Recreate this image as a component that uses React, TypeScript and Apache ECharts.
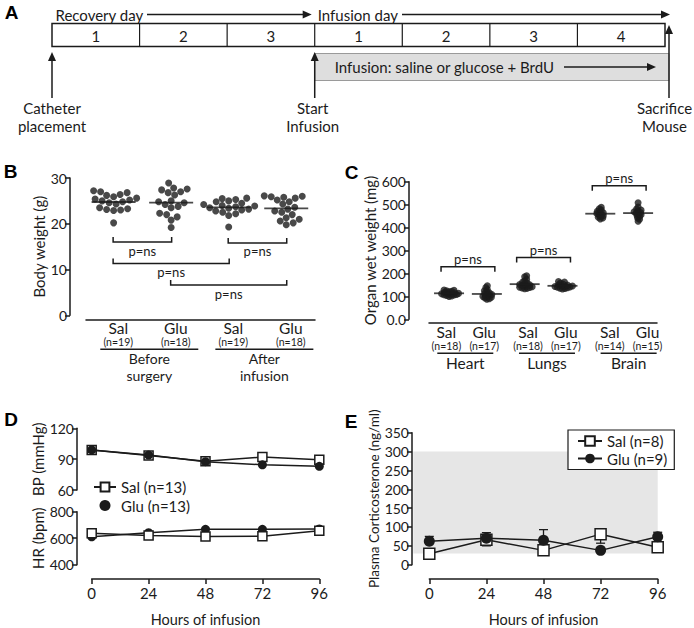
import React, { useEffect, useRef } from "react";
import * as echarts from "echarts";

// ---------------- DATA ----------------
// Panel A (timeline)
const recoveryDays = ["1", "2", "3"];
const infusionDays = ["1", "2", "3", "4"];
const eventLabels = ["Catheter\nplacement", "Start\nInfusion", "Sacrifice\nMouse"];
const infusionNote = "Infusion: saline or glucose + BrdU";

// Panel B (body weight, g)
const bGroups = ["Sal", "Glu", "Sal", "Glu"];
const bCounts = ["(n=19)", "(n=18)", "(n=19)", "(n=18)"];
const bPhases = [["Before", "surgery"], ["After", "infusion"]];
const bSalBefore = [20.2, 22.9, 23.0, 23.1, 23.3, 23.5, 24.3, 24.6, 24.8, 25.0, 25.2, 25.4, 25.6, 25.9, 26.2, 26.4, 26.8, 27.0, 27.2];
const bGluBefore = [19.2, 20.8, 21.5, 22.0, 22.3, 23.5, 23.8, 24.2, 24.6, 24.8, 25.0, 26.3, 26.8, 27.0, 27.4, 27.6, 27.8, 28.9];
const bSalAfter = [19.3, 21.8, 22.2, 22.5, 22.8, 23.0, 23.2, 23.4, 23.5, 23.7, 23.9, 24.0, 24.2, 24.5, 24.8, 25.0, 25.3, 25.5, 25.6];
const bGluAfter = [19.8, 20.2, 20.6, 21.0, 21.3, 22.0, 22.5, 22.8, 23.2, 23.6, 24.3, 24.8, 25.2, 25.6, 25.8, 25.9, 26.0, 26.1];
const bBrackets = [[0, 1, 16.0], [2, 3, 15.8], [0, 2, 11.3], [1, 3, 6.6]];
const bYTicks = [0, 10, 20, 30];

// Panel C (organ wet weight, mg)
const cGroups = ["Sal", "Glu", "Sal", "Glu", "Sal", "Glu"];
const cCounts = ["(n=18)", "(n=17)", "(n=18)", "(n=17)", "(n=14)", "(n=15)"];
const cOrgans = [["Heart"], ["Lungs"], ["Brain"]];
const cHeartSal = [100, 102, 104, 106, 107, 108, 110, 111, 112, 113, 114, 116, 118, 120, 122, 124, 126, 128];
const cHeartGlu = [88, 90, 93, 96, 98, 100, 103, 105, 108, 110, 113, 116, 120, 124, 130, 138, 146];
const cLungsSal = [133, 135, 137, 139, 140, 142, 144, 146, 148, 150, 152, 155, 158, 162, 168, 175, 185, 190];
const cLungsGlu = [132, 134, 136, 138, 140, 141, 142, 143, 144, 145, 147, 149, 151, 154, 158, 162, 165];
const cBrainSal = [438, 442, 445, 448, 452, 455, 458, 461, 464, 467, 471, 476, 482, 488];
const cBrainGlu = [428, 436, 442, 448, 452, 456, 460, 463, 466, 469, 472, 476, 481, 490, 508];
const cBrackets = [[0, 1, 229], [2, 3, 269], [4, 5, 582]];

// Panel D (BP / HR over hours of infusion)
const hours = [0, 24, 48, 72, 96];
const bpSal = [99, 93.5, 88, 92, 89.5];
const bpGlu = [99, 94, 87.5, 84.5, 83];
const hrSal = [638, 620, 613, 615, 656];
const hrGlu = [611, 642, 667, 667, 670];

// Panel E (plasma corticosterone, ng/ml)
const corSal = [29, 66, 38, 81, 46];
const corSalErr = [3, 16, 5, 24, 11];
const corGlu = [62, 70, 65, 38, 74];
const corGluErr = [13, 15, 28, 3, 12];
const corNormalRange = [30, 300];

const pLabel = "p=ns";

// ---------------- STYLE / LAYOUT ----------------
const FONT = "Lato, 'Open Sans', sans-serif";
const INK = "#1b1b1b";

function mean(a: number[]) {
  return a.reduce((s, v) => s + v, 0) / a.length;
}

// deterministic beeswarm: horizontal offsets (data units) so dots don't collide
function swarmOffsets(values: number[], pxPerY: number, pxPerX: number, minDist: number, step = 0.5) {
  const order = values.map((_, i) => i).sort((a, b) => values[a] - values[b]);
  const placed: number[][] = [];
  const out = new Array(values.length).fill(0);
  for (const i of order) {
    const y = values[i] * pxPerY;
    let x = 0;
    for (let k = 0; k < 600; k++) {
      const c = k === 0 ? 0 : (k % 2 === 1 ? 1 : -1) * Math.ceil(k / 2) * step;
      let ok = true;
      for (const p of placed) {
        const dx = p[0] - c, dy = p[1] - y;
        if (dx * dx + dy * dy < minDist * minDist) { ok = false; break; }
      }
      if (ok) { x = c; break; }
    }
    placed.push([x, y]);
    out[i] = x / pxPerX;
  }
  return out;
}

const txt = (extra: any) => ({ fill: INK, fontFamily: FONT, ...extra });

function buildTimeline() {
  const days = [...recoveryDays, ...infusionDays];
  const L = 52, R = 665, T = 23.5, B = 46.5;
  const cw = (R - L) / days.length;
  const els: any[] = [];
  const arrowH = (x1: number, x2: number, y: number) => {
    els.push({ type: "line", shape: { x1, y1: y, x2: x2 - 7, y2: y }, style: { stroke: INK, lineWidth: 1.5 } });
    els.push({ type: "polygon", shape: { points: [[x2 - 9, y - 4], [x2, y], [x2 - 9, y + 4]] }, style: { fill: INK } });
  };
  const arrowV = (x: number, yTip: number, yEnd: number) => {
    els.push({ type: "line", shape: { x1: x, y1: yTip + 7, x2: x, y2: yEnd }, style: { stroke: INK, lineWidth: 1.5 } });
    els.push({ type: "polygon", shape: { points: [[x - 4, yTip + 9], [x, yTip], [x + 4, yTip + 9]] }, style: { fill: INK } });
  };
  els.push({ type: "text", x: L + 3.5, y: 14.5, style: txt({ text: "Recovery day", fontSize: 15, align: "left", verticalAlign: "middle" }) });
  arrowH(147, L + recoveryDays.length * cw - 3, 14.5);
  const infStart = L + recoveryDays.length * cw;
  els.push({ type: "text", x: infStart + 3, y: 14.5, style: txt({ text: "Infusion day", fontSize: 15, align: "left", verticalAlign: "middle" }) });
  arrowH(402, R + 5, 14.5);
  els.push({ type: "rect", shape: { x: infStart, y: 53.5, width: R + 4 - infStart, height: 27 }, style: { fill: "#dedede", stroke: "#9a9a9a", lineWidth: 1 } });
  els.push({ type: "text", x: infStart + 20, y: 67, style: txt({ text: infusionNote, fontSize: 15, align: "left", verticalAlign: "middle" }) });
  arrowH(564, 656, 67);
  els.push({ type: "rect", shape: { x: L, y: T, width: R - L, height: B - T }, style: { fill: "#fff", stroke: INK, lineWidth: 1.5 } });
  days.forEach((d, i) => {
    if (i > 0) els.push({ type: "line", shape: { x1: L + i * cw, y1: T, x2: L + i * cw, y2: B }, style: { stroke: INK, lineWidth: 1.2 } });
    els.push({ type: "text", x: L + (i + 0.5) * cw, y: 35.5, style: txt({ text: d, fontSize: 15, align: "center", verticalAlign: "middle" }) });
  });
  const evX = [L, infStart, R + 4];
  const evTip = [52, 52, 25];
  const evShift = [0, -2, -4.5];
  evX.forEach((x, i) => {
    arrowV(x, evTip[i], 98);
    eventLabels[i].split("\n").forEach((line, j) => {
      els.push({ type: "text", x: x + evShift[i], y: 108 + j * 18, style: txt({ text: line, fontSize: 15, align: "center", verticalAlign: "middle" }) });
    });
  });
  return els;
}

const panelLetters = [
  { t: "A", x: 11.5, y: 12.5 },
  { t: "B", x: 10.5, y: 171 },
  { t: "C", x: 351.5, y: 172 },
  { t: "D", x: 11, y: 419 },
  { t: "E", x: 351, y: 421 },
];

export default function App() {
  const ref = useRef<HTMLDivElement>(null);
  useEffect(() => {
    if (!ref.current) return;
    const chart = echarts.init(ref.current, undefined, { renderer: "svg" });

    const BG = { left: 86, top: 178, width: 229, height: 137.3 };
    const BX = { min: -0.48, max: 3.5 };
    const bPxX = BG.width / (BX.max - BX.min), bPxY = BG.height / 30;
    const CG = { left: 429, top: 181.7, width: 228, height: 137.6 };
    const CX = { min: -0.53, max: 5.5 };
    const cPxX = CG.width / (CX.max - CX.min), cPxY = CG.height / 600;

    const bSets = [bSalBefore, bGluBefore, bSalAfter, bGluAfter];
    const cSets = [cHeartSal, cHeartGlu, cLungsSal, cLungsGlu, cBrainSal, cBrainGlu];

    const bDots: number[][] = [];
    bSets.forEach((s, g) => {
      const off = swarmOffsets(s, bPxY, bPxX, 6.8);
      s.forEach((v, i) => bDots.push([g + off[i], v]));
    });
    const cDots: number[][] = [];
    cSets.forEach((s, g) => {
      const off = swarmOffsets(s, cPxY, cPxX, 2.3);
      s.forEach((v, i) => cDots.push([g + off[i], v]));
    });

    const yAxisBase = (extra: any) => ({
      type: "value",
      axisLine: { show: true, onZero: false, lineStyle: { color: INK, width: 1.5 } },
      axisTick: { show: true, length: 5, lineStyle: { color: INK, width: 1.5 } },
      axisLabel: { color: INK, fontSize: 14, fontFamily: FONT, margin: 3 },
      splitLine: { show: false },
      nameLocation: "middle",
      nameRotate: 90,
      nameTextStyle: { color: INK, fontSize: 15, fontFamily: FONT },
      ...extra,
    });
    const xHidden = (extra: any) => ({
      type: "value",
      axisLine: { show: true, onZero: false, lineStyle: { color: INK, width: 1.5 } },
      axisTick: { show: false },
      axisLabel: { show: false },
      splitLine: { show: false },
      ...extra,
    });
    const xHours = (grid: number) => ({
      type: "value", gridIndex: grid, min: 0, max: 96, interval: 24, offset: 14.3,
      axisLine: { show: true, onZero: false, lineStyle: { color: INK, width: 1.5 } },
      axisTick: { show: true, length: 5, lineStyle: { color: INK, width: 1.5 } },
      axisLabel: { color: INK, fontSize: 15, fontFamily: FONT, margin: 6 },
      splitLine: { show: false },
      name: "Hours of infusion", nameLocation: "middle", nameGap: 33,
      nameTextStyle: { color: INK, fontSize: 14.5, fontFamily: FONT },
    });

    const bracketSeries = (xi: number, brackets: number[][], dir: number, labelDy: number, ext: number) => ({
      type: "custom", xAxisIndex: xi, yAxisIndex: xi, silent: true, z: 3,
      data: brackets.map((b) => [b[0], b[2]]),
      renderItem: (params: any, api: any) => {
        const b = brackets[params.dataIndex];
        const p1 = api.coord([b[0], b[2]]);
        const p2 = api.coord([b[1], b[2]]);
        const x1 = p1[0] - ext, x2 = p2[0] + ext, y = p1[1];
        return {
          type: "group",
          children: [
            { type: "polyline", shape: { points: [[x1, y + dir * 5], [x1, y], [x2, y], [x2, y + dir * 5]] }, style: { stroke: INK, lineWidth: 1.5, fill: null } },
            { type: "text", x: (x1 + x2) / 2, y: y + labelDy, style: txt({ text: pLabel, fontSize: 13, align: "center", verticalAlign: "middle" }) },
          ],
        };
      },
    });

    const groupLabelSeries = (xi: number, groups: string[], counts: string[], shift: (i: number) => number, dy1: number, dy2: number, size: number) => ({
      type: "custom", xAxisIndex: xi, yAxisIndex: xi, silent: true,
      data: groups.map((_, i) => [i, 0]),
      renderItem: (params: any, api: any) => {
        const i = params.dataIndex;
        const p = api.coord([i + shift(i), 0]);
        return {
          type: "group",
          children: [
            { type: "text", x: p[0], y: p[1] + dy1, style: txt({ text: groups[i], fontSize: size, align: "center", verticalAlign: "middle" }) },
            { type: "text", x: p[0], y: p[1] + dy2, style: txt({ text: counts[i], fontSize: 10.5, align: "center", verticalAlign: "middle" }) },
          ],
        };
      },
    });

    const superLabelSeries = (xi: number, labels: string[][], center: (k: number) => number, dLine: number, dText: number, half: number, size: number, lineGap: number) => ({
      type: "custom", xAxisIndex: xi, yAxisIndex: xi, silent: true,
      data: labels.map((_, k) => [k, 0]),
      renderItem: (params: any, api: any) => {
        const k = params.dataIndex;
        const p = api.coord([center(k), 0]);
        const children: any[] = [
          { type: "line", shape: { x1: p[0] - half, y1: p[1] + dLine, x2: p[0] + half, y2: p[1] + dLine }, style: { stroke: INK, lineWidth: 1.5 } },
        ];
        labels[k].forEach((line, j) => {
          children.push({ type: "text", x: p[0], y: p[1] + dText + j * lineGap, style: txt({ text: line, fontSize: size, align: "center", verticalAlign: "middle" }) });
        });
        return { type: "group", children };
      },
    });

    const errSeries = (vals: number[], errs: number[], sign: number) => ({
      type: "custom", xAxisIndex: 4, yAxisIndex: 4, silent: true, z: 2,
      data: hours.map((h, i) => [h, vals[i], vals[i] + sign * errs[i]]),
      renderItem: (params: any, api: any) => {
        const a = api.coord([api.value(0), api.value(1)]);
        const b = api.coord([api.value(0), api.value(2)]);
        return {
          type: "group",
          children: [
            { type: "line", shape: { x1: a[0], y1: a[1], x2: b[0], y2: b[1] }, style: { stroke: INK, lineWidth: 1.3 } },
            { type: "line", shape: { x1: b[0] - 4.5, y1: b[1], x2: b[0] + 4.5, y2: b[1] }, style: { stroke: INK, lineWidth: 1.3 } },
          ],
        };
      },
    });

    const salStyle = (size: number) => ({
      symbol: "rect", symbolSize: size, showAllSymbol: true,
      itemStyle: { color: "#fff", borderColor: INK, borderWidth: 1.5 },
      lineStyle: { color: INK, width: 1.5 },
    });
    const gluStyle = (size: number) => ({
      symbol: "circle", symbolSize: size, showAllSymbol: true,
      itemStyle: { color: INK },
      lineStyle: { color: INK, width: 1.5 },
    });

    const option: any = {
      animation: false,
      backgroundColor: "#fff",
      textStyle: { fontFamily: FONT, color: INK },
      graphic: [
        ...buildTimeline(),
        ...panelLetters.map((p) => ({ type: "text", x: p.x, y: p.y, style: { text: p.t, fill: "#000", fontSize: 19, fontWeight: "bold", fontFamily: "'Liberation Sans', Arial, sans-serif", align: "center", verticalAlign: "middle" } })),
      ],
      grid: [
        { ...BG, containLabel: false },
        { ...CG, containLabel: false },
        { left: 91.7, top: 428.3, width: 227.6, height: 61.7 },
        { left: 91.7, top: 511.7, width: 227.6, height: 61 },
        { left: 429.3, top: 432.7, width: 228.4, height: 136.3 },
      ],
      xAxis: [
        xHidden({ gridIndex: 0, min: BX.min, max: BX.max, offset: 4 }),
        xHidden({ gridIndex: 1, min: CX.min, max: CX.max, offset: 3.5 }),
        { type: "value", gridIndex: 2, min: 0, max: 96, show: false },
        xHours(3),
        xHours(4),
      ],
      yAxis: [
        yAxisBase({ gridIndex: 0, min: bYTicks[0], max: bYTicks[bYTicks.length - 1], interval: 10, offset: 16, name: "Body weight (g)", nameGap: 24 }),
        yAxisBase({ gridIndex: 1, min: 0, max: 600, interval: 100, offset: 20, name: "Organ wet weight (mg)", nameGap: 29, axisLabel: { color: INK, fontSize: 14, fontFamily: FONT, margin: 3, formatter: (v: number) => (v === 0 ? "0.0" : String(v)) } }),
        yAxisBase({ gridIndex: 2, min: 60, max: 120, interval: 30, offset: 14.7, name: "BP (mmHg)", nameGap: 30 }),
        yAxisBase({ gridIndex: 3, min: 400, max: 800, interval: 200, offset: 14.7, name: "HR (bpm)", nameGap: 30 }),
        yAxisBase({ gridIndex: 4, min: 0, max: 350, interval: 50, offset: 17.3, name: "Plasma Corticosterone (ng/ml)", nameGap: 27, nameTextStyle: { color: INK, fontSize: 13.5, fontFamily: FONT } }),
      ],
      legend: [
        {
          orient: "vertical", left: 93, top: 478.5, padding: 0, itemGap: 1.5, itemWidth: 22, itemHeight: 11,
          textStyle: { color: INK, fontSize: 15, fontFamily: FONT, lineHeight: 17 },
          data: ["Sal (n=13)", { name: "Glu (n=13)", icon: "circle" }],
          selectedMode: false,
        },
        {
          orient: "vertical", left: 568, top: 430, padding: [2.5, 7, 2.5, 9], itemGap: 0.5, itemWidth: 24, itemHeight: 12,
          borderColor: INK, borderWidth: 1.2, backgroundColor: "#fff",
          textStyle: { color: INK, fontSize: 15, fontFamily: FONT, lineHeight: 17 },
          data: ["Sal (n=8)", "Glu (n=9)"],
          selectedMode: false,
        },
      ],
      series: [
        // ---- B ----
        { type: "scatter", xAxisIndex: 0, yAxisIndex: 0, symbolSize: 7, itemStyle: { color: INK }, data: bDots, z: 2 },
        { type: "scatter", xAxisIndex: 0, yAxisIndex: 0, symbol: "rect", symbolSize: [44, 1.8], itemStyle: { color: INK }, data: bSets.map((s, g) => [g, mean(s)]), z: 3 },
        bracketSeries(0, bBrackets, -1, 8.5, 0.5),
        groupLabelSeries(0, bGroups, bCounts, () => 0.08, 13, 27, 15.5),
        superLabelSeries(0, bPhases, (k) => 2 * k + 0.5 + 0.12, 34, 43, 49, 14, 17),
        // ---- C ----
        { type: "scatter", xAxisIndex: 1, yAxisIndex: 1, symbolSize: 7, itemStyle: { color: INK }, data: cDots, z: 2 },
        { type: "scatter", xAxisIndex: 1, yAxisIndex: 1, symbol: "rect", symbolSize: [30, 1.8], itemStyle: { color: INK }, data: cSets.map((s, g) => [g, mean(s)]), z: 3 },
        bracketSeries(1, cBrackets, 1, -8, 8),
        groupLabelSeries(1, cGroups, cCounts, (i) => Math.floor(i / 2) * 0.16 - 0.07, 12.5, 26.5, 15.5),
        superLabelSeries(1, cOrgans, (k) => 2 * k + 0.5 + k * 0.16 - 0.07, 34, 44, 28, 15.5, 0),
        // ---- D ----
        { type: "line", name: "Sal (n=13)", xAxisIndex: 2, yAxisIndex: 2, data: hours.map((h, i) => [h, bpSal[i]]), ...salStyle(9), z: 3 },
        { type: "line", name: "Glu (n=13)", xAxisIndex: 2, yAxisIndex: 2, data: hours.map((h, i) => [h, bpGlu[i]]), ...gluStyle(9), z: 4 },
        { type: "line", name: "Sal (n=13)", xAxisIndex: 3, yAxisIndex: 3, data: hours.map((h, i) => [h, hrSal[i]]), ...salStyle(9), z: 4 },
        { type: "line", name: "Glu (n=13)", xAxisIndex: 3, yAxisIndex: 3, data: hours.map((h, i) => [h, hrGlu[i]]), ...gluStyle(9), z: 3 },
        // ---- E ----
        {
          type: "custom", xAxisIndex: 4, yAxisIndex: 4, silent: true, z: 1,
          data: [[0, corNormalRange[1]]],
          renderItem: (_p: any, api: any) => {
            const a = api.coord([0, corNormalRange[1]]);
            const b = api.coord([96, corNormalRange[0]]);
            return { type: "rect", shape: { x: a[0] - 16, y: a[1], width: b[0] - a[0] + 16, height: b[1] - a[1] }, style: { fill: "#e6e6e6" } };
          },
        },
        errSeries(corGlu, corGluErr, 1),
        errSeries(corSal, corSalErr, -1),
        { type: "line", name: "Sal (n=8)", xAxisIndex: 4, yAxisIndex: 4, data: hours.map((h, i) => [h, corSal[i]]), ...salStyle(11), z: 3 },
        { type: "line", name: "Glu (n=9)", xAxisIndex: 4, yAxisIndex: 4, data: hours.map((h, i) => [h, corGlu[i]]), ...gluStyle(11), z: 4 },
      ],
    };
    chart.setOption(option);
    return () => chart.dispose();
  }, []);
  return <div ref={ref} style={{ position: "fixed", left: 0, top: 0, width: 694, height: 628, background: "#fff" }} />;
}
